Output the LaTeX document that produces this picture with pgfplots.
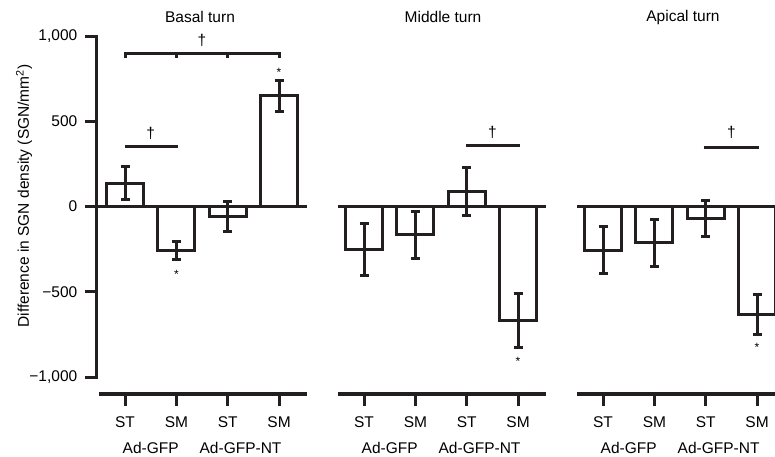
\documentclass[border=0pt]{standalone}
\usepackage{pgfplots}
\pgfplotsset{compat=1.18}
\usepackage{fontspec}
\setmainfont{Liberation Sans}
\definecolor{ink}{RGB}{35,31,32}
\newcommand{\myfont}{\fontsize{15.5}{18}\selectfont}

\pgfplotstableread{
x y e
0 138 97
1 -257 55
2 -58 90
3 650 90
}\basal
\pgfplotstableread{
x y e
0 -250 152
1 -165 138
2 90 140
3 -667 160
}\middleturn
\pgfplotstableread{
x y e
0 -255 140
1 -213 138
2 -68 105
3 -632 116
}\apical

\pgfplotsset{
  panel/.style={
    scale only axis, width=210.5pt, height=358pt,
    xmin=-0.55, xmax=3.55, ymin=-1100, ymax=1000,
    axis x line*=bottom, axis y line*=left,
    axis line style={draw=none},
    xtick={0,1,2,3}, xticklabels={ST,SM,ST,SM},
    ticklabel style={font=\myfont, text=black},
    xticklabel style={yshift=-7pt},
    yticklabel style={xshift=-4pt},
    tick align=outside,
    major tick length=12pt,
    tick style={line width=3pt, color=ink},
    xtick pos=bottom,
    clip=false,
    ybar, bar width=0.72,
    anchor=south west,
  },
  bars/.style={draw=ink, fill=white, line width=3pt,
    error bars/.cd, y dir=both, y explicit,
    error bar style={line width=3pt, color=ink},
    error mark options={rotate=90, mark size=4.5pt, line width=3pt, color=ink}},
}

\begin{document}
\begin{tikzpicture}[font=\myfont]
\path[use as bounding box] (0pt,0pt) rectangle (775pt,456pt);
\begin{scope}
\clip (0pt,0pt) rectangle (775pt,456pt);

% ---------- Basal turn ----------
\begin{axis}[panel, at={(96.8pt,61.9pt)},
  ytick={-1000,-500,0,500,1000},
  yticklabels={{−1,000},{−500},{0},{500},{1,000}},
  ytick pos=left]
\addplot[bars] table[x=x,y=y,y error=e] {\basal};
\draw[ink, line width=3.5pt] (axis cs:-0.55,0) -- (axis cs:3.55,0);
\draw[ink, line width=3.7pt] (axis cs:-0.5,-1100) -- (axis cs:3.55,-1100);
\draw[ink, line width=3pt, line cap=rect] (axis cs:-0.55,-1000) -- (axis cs:-0.55,1000);
\draw[ink, line width=3pt] (axis cs:0,870) -- (axis cs:0,900) -- (axis cs:3,900) -- (axis cs:3,870);
\draw[ink, line width=3pt] (axis cs:1,900) -- (axis cs:1,870);
\draw[ink, line width=3pt] (axis cs:2,900) -- (axis cs:2,870);
\node at (axis cs:1.5,976) {†};
\draw[ink, line width=3pt] (axis cs:0,350) -- (axis cs:1.03,350);
\node at (axis cs:0.5,430) {†};
\node[font=\fontsize{12}{14}\selectfont, yshift=-2.5pt] at (axis cs:3,800) {*};
\node[font=\fontsize{12}{14}\selectfont, yshift=-2.5pt] at (axis cs:1,-384) {*};
\node[anchor=base, yshift=-59.5pt] at (axis cs:0.5,-1100) {Ad-GFP};
\node[anchor=base, yshift=-59.5pt] at (axis cs:2.25,-1100) {Ad-GFP-NT};
\end{axis}

% ---------- Middle turn ----------
\begin{axis}[panel, at={(335.8pt,61.9pt)}, ytick=\empty]
\addplot[bars] table[x=x,y=y,y error=e] {\middleturn};
\draw[ink, line width=3.5pt] (axis cs:-0.5,0) -- (axis cs:3.55,0);
\draw[ink, line width=3.7pt] (axis cs:-0.5,-1100) -- (axis cs:3.55,-1100);
\draw[ink, line width=3pt] (axis cs:1.99,357) -- (axis cs:3.04,357);
\node at (axis cs:2.5,437) {†};
\node[font=\fontsize{12}{14}\selectfont, yshift=-2.5pt] at (axis cs:3,-894) {*};
\node[anchor=base, yshift=-59.5pt] at (axis cs:0.5,-1100) {Ad-GFP};
\node[anchor=base, yshift=-59.5pt] at (axis cs:2.25,-1100) {Ad-GFP-NT};
\end{axis}

% ---------- Apical turn ----------
\begin{axis}[panel, at={(574.8pt,61.9pt)}, ytick=\empty]
\addplot[bars] table[x=x,y=y,y error=e] {\apical};
\draw[ink, line width=3.5pt] (axis cs:-0.5,0) -- (axis cs:3.55,0);
\draw[ink, line width=3.7pt] (axis cs:-0.5,-1100) -- (axis cs:3.55,-1100);
\draw[ink, line width=3pt] (axis cs:1.96,349) -- (axis cs:3.04,349);
\node at (axis cs:2.5,437) {†};
\node[font=\fontsize{12}{14}\selectfont, yshift=-2.5pt] at (axis cs:3,-812) {*};
\node[anchor=base, yshift=-59.5pt] at (axis cs:0.5,-1100) {Ad-GFP};
\node[anchor=base, yshift=-59.5pt] at (axis cs:2.25,-1100) {Ad-GFP-NT};
\end{axis}

\node at (200pt,439pt) {Basal turn};
\node at (443pt,439pt) {Middle turn};
\node at (683pt,439pt) {Apical turn};
\node[rotate=90] at (24pt,260pt) {Difference in SGN density (SGN/mm\textsuperscript{2})};
\end{scope}
\end{tikzpicture}
\end{document}
